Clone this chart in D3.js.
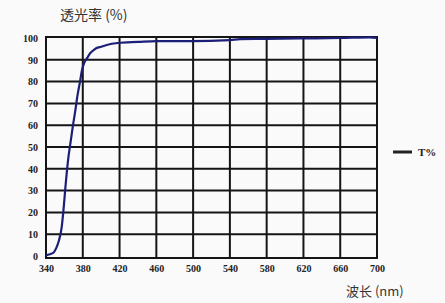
<!DOCTYPE html>
<html>
<head>
<meta charset="utf-8">
<script src="https://cdn.jsdelivr.net/npm/d3@7"></script>
<style>
  body { margin: 0; background: #fafafa; }
  svg { display: block; }
  .tick text { font-family: "Liberation Serif", serif; font-weight: bold; font-size: 10px; fill: #222; }
</style>
</head>
<body>
<div id="chart"></div>
<script>
// wavelength (nm) and transmittance (%)
var wavelength = [340, 344, 348, 351, 354, 357, 359, 361, 364, 367, 369, 372, 374, 377, 379, 382, 385, 388, 392, 395, 400, 406, 418, 440, 460, 497, 540, 551, 580, 616, 660, 692, 700];
var transmit   = [0.3, 0.8, 1.5, 3.5, 7, 13, 21, 31, 44, 53, 59, 67, 73, 80, 85, 89, 91, 93, 94.5, 95.4, 96, 96.8, 97.7, 98.2, 98.6, 98.6, 99, 99.5, 99.6, 99.8, 100, 100.3, 100];
var xTicks = [340, 380, 420, 460, 500, 540, 580, 620, 660, 700];
var yTicks = [0, 10, 20, 30, 40, 50, 60, 70, 80, 90, 100];

function drawChart() {
    var width = 445, height = 303;
    var plotL = 46, plotR = 377, plotT = 38, plotB = 256;

    var svg = d3.select('#chart').append('svg')
        .attr('width', width)
        .attr('height', height);

    var x = d3.scaleLinear().domain([340, 700]).range([plotL, plotR]);
    var y = d3.scaleLinear().domain([0, 100]).range([plotB, plotT]);

    // grid
    var grid = svg.append('g').attr('stroke', '#151515').attr('stroke-width', 2);
    grid.selectAll('line.v')
        .data(xTicks.slice(1, -1))
        .enter().append('line')
        .attr('class', 'v')
        .attr('x1', d => x(d)).attr('x2', d => x(d))
        .attr('y1', plotT - 1).attr('y2', plotB + 2);
    grid.selectAll('line.h')
        .data(yTicks.slice(1, -1))
        .enter().append('line')
        .attr('class', 'h')
        .attr('x1', plotL).attr('x2', plotR)
        .attr('y1', d => y(d)).attr('y2', d => y(d));
    grid.append('rect')
        .attr('x', plotL).attr('y', plotT - 1)
        .attr('width', plotR - plotL).attr('height', plotB + 3 - plotT)
        .attr('fill', 'none');

    // axes labels
    var xAxis = d3.axisBottom(x).tickValues(xTicks).tickSize(0).tickPadding(7);
    svg.append('g')
        .attr('transform', 'translate(0,' + (plotB + 2) + ')')
        .call(xAxis)
        .call(g => g.select('.domain').remove());

    var yAxis = d3.axisLeft(y).tickValues(yTicks).tickSize(0).tickPadding(8);
    svg.append('g')
        .attr('transform', 'translate(' + plotL + ',0)')
        .call(yAxis)
        .call(g => g.select('.domain').remove());

    // curve
    var line = d3.line()
        .x((d, i) => x(wavelength[i]))
        .y(d => y(d))
        .curve(d3.curveMonotoneX);

    svg.append('path')
        .datum(transmit)
        .attr('d', line)
        .attr('fill', 'none')
        .attr('stroke', '#1c1f78')
        .attr('stroke-width', 2.2);

    // titles
    svg.append('text')
        .attr('x', 60).attr('y', 20)
        .style('font-family', '"Noto Sans CJK SC", sans-serif')
        .style('font-size', '14px')
        .attr('fill', '#333')
        .text('透光率 (%)');

    svg.append('text')
        .attr('x', 346).attr('y', 296)
        .style('font-family', '"Noto Sans CJK SC", sans-serif')
        .style('font-size', '13px')
        .attr('fill', '#333')
        .text('波长 (nm)');

    // legend
    svg.append('line')
        .attr('x1', 393).attr('x2', 412)
        .attr('y1', 152).attr('y2', 152)
        .attr('stroke', '#222').attr('stroke-width', 3);
    svg.append('text')
        .attr('x', 418).attr('y', 156)
        .style('font-family', '"Liberation Serif", serif')
        .style('font-weight', 'bold')
        .style('font-size', '11px')
        .attr('fill', '#222')
        .text('T%');
}

drawChart();
</script>
</body>
</html>
